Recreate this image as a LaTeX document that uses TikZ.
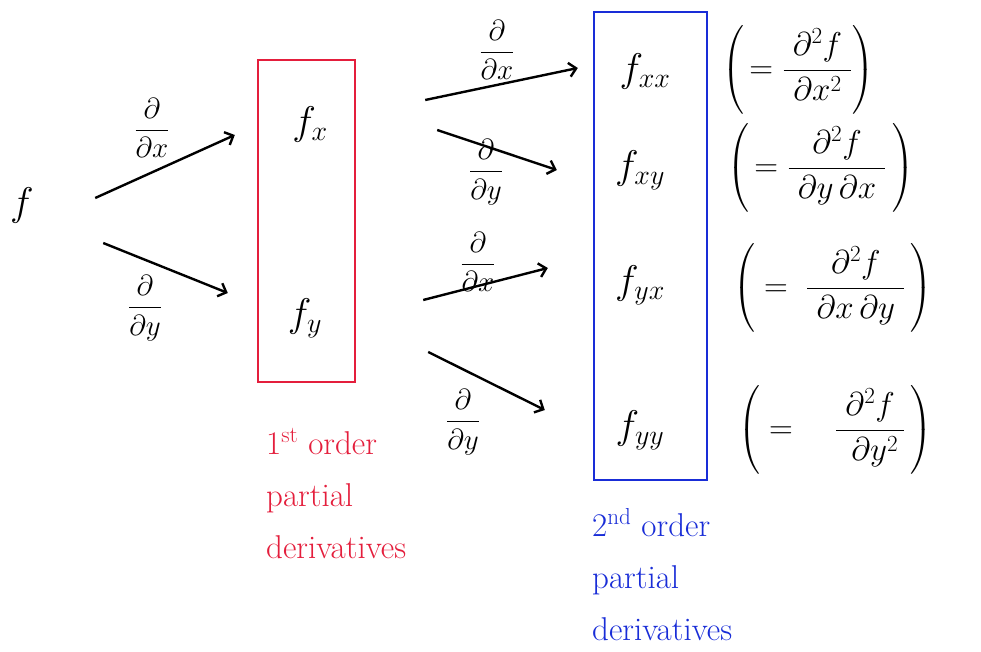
\RequirePackage{fix-cm}
\documentclass[tikz,border=0pt]{standalone}
\usepackage{amsmath}
\usetikzlibrary{arrows.meta, positioning}
\definecolor{penred}{RGB}{228,30,60}
\definecolor{penblue}{RGB}{25,45,215}
\tikzset{
  term/.style    = {inner sep=0pt, minimum height=50pt,
                    font=\fontsize{40}{44}\selectfont},
  dlabel/.style  = {inner sep=0pt, font=\fontsize{29}{32}\selectfont},
  eqn/.style     = {anchor=west, inner sep=0pt, font=\fontsize{33}{38}\selectfont},
  redbox/.style  = {rectangle, draw=penred, line width=1.3pt, inner sep=0pt},
  bluebox/.style = {rectangle, draw=penblue, line width=1.3pt, inner sep=0pt},
  note/.style    = {anchor=north west, align=left, inner sep=0pt,
                    font=\fontsize{33}{52}\selectfont},
  arr/.style     = {-{Straight Barb[length=7pt, width=14pt]}, line width=2.4pt},
}

\begin{document}
\begin{tikzpicture}[x=1pt, y=-1pt]
  \useasboundingbox (0,0) rectangle (981,652);

  % function and first derivatives
  \node[term, minimum width=30pt] (f) at (22,205) {$f$};
  \node[term, minimum width=60pt] (fx) at (310,125) {$f_x$};
  \node[term, minimum width=60pt] (fy) at (305,318) {$f_y$};
  \node[redbox, minimum width=97pt, minimum height=322pt] (first) at (306.5,221) {};

  % second derivatives
  \node[term, minimum width=70pt] (fxx) at (645,72) {$f_{xx}$};
  \node[term, minimum width=70pt] (fxy) at (640,170) {$f_{xy}$};
  \node[term, minimum width=70pt] (fyx) at (640,285) {$f_{yx}$};
  \node[term, minimum width=70pt] (fyy) at (640,430) {$f_{yy}$};
  \node[bluebox, minimum width=113pt, minimum height=468pt] (second) at (650.5,246) {};

  % operator labels
  \node[dlabel] (dx1) at (152,128) {$\dfrac{\partial}{\partial x}$};
  \node[dlabel] (dy1) at (145,308) {$\dfrac{\partial}{\partial y}$};
  \node[dlabel] (dx2) at (497,50) {$\dfrac{\partial}{\partial x}$};
  \node[dlabel] (dy2) at (486,172) {$\dfrac{\partial}{\partial y}$};
  \node[dlabel] (dx3) at (478,262) {$\dfrac{\partial}{\partial x}$};
  \node[dlabel] (dy3) at (463,422) {$\dfrac{\partial}{\partial y}$};

  \draw[arr] ([xshift=58pt, yshift=7pt]f.east) -- ([xshift=-45pt, yshift=-10pt]fx.west);
  \draw[arr] ([xshift=66pt, yshift=-38pt]f.east) -- ([xshift=-47pt, yshift=25pt]fy.west);
  \draw[arr] ([xshift=85pt, yshift=25pt]fx.east) -- ([xshift=-32pt, yshift=4pt]fxx.west);
  \draw[arr] ([xshift=97pt, yshift=-5pt]fx.east) -- ([xshift=-48pt]fxy.west);
  \draw[arr] ([xshift=88pt, yshift=18pt]fy.east) -- ([xshift=-57pt, yshift=17pt]fyx.west);
  \draw[arr] ([xshift=93pt, yshift=-34pt]fy.east) -- ([xshift=-60pt, yshift=20pt]fyy.west);

  % Leibniz notation
  \node[eqn] (exx) at (722,70) {$\left(\,=\dfrac{\;\partial^2 f\;}{\partial x^2}\right)$};
  \node[eqn] (exy) at (727,168) {$\left(\,=\dfrac{\partial^2 f}{\;\partial y\,\partial x\;}\,\right)$};
  \node[eqn] (eyx) at (733,288) {$\left(\;=\;\dfrac{\partial^2 f}{\;\partial x\,\partial y\;}\,\right)$};
  \node[eqn] (eyy) at (738,430) {$\left(\;=\quad\dfrac{\;\partial^2 f\;}{\;\partial y^2}\,\right)$};

  % captions
  \node[note, text=penred] (cap1) at (266,428) {1\textsuperscript{st}\ order\\partial\\derivatives};
  \node[note, text=penblue] (cap2) at (592,508) {2\textsuperscript{nd}\ order\\partial\\derivatives};
\end{tikzpicture}
\end{document}
